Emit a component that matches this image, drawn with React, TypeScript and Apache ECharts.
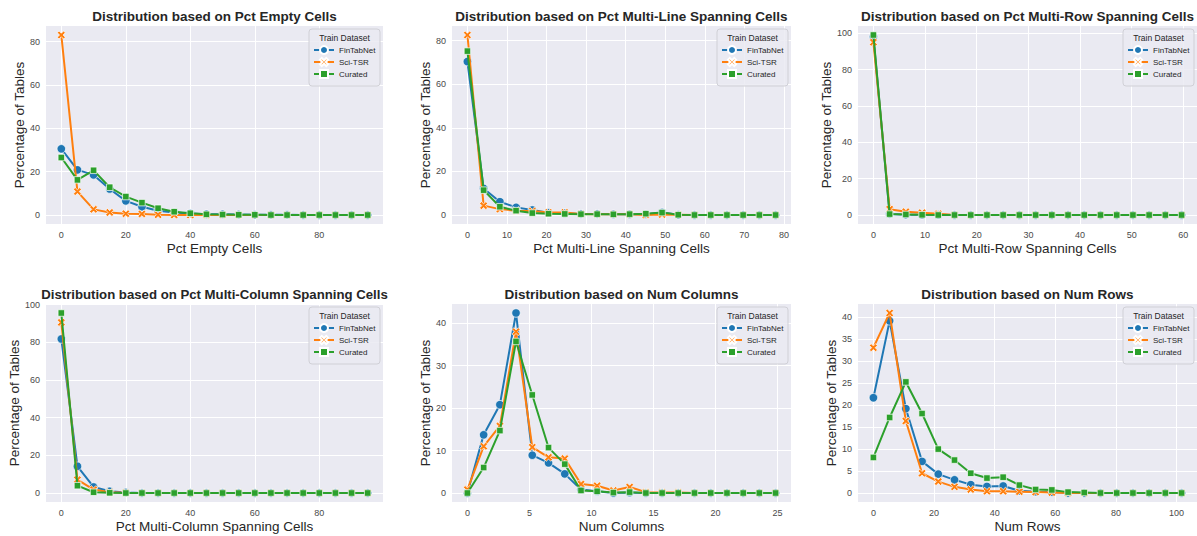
import React, { useEffect, useRef } from 'react';
import * as echarts from 'echarts';

// ---------- data ----------
const seriesNames = ['FinTabNet', 'Sci-TSR', 'Curated'];

const panelTitles = [
  'Distribution based on Pct Empty Cells',
  'Distribution based on Pct Multi-Line Spanning Cells',
  'Distribution based on Pct Multi-Row Spanning Cells',
  'Distribution based on Pct Multi-Column Spanning Cells',
  'Distribution based on Num Columns',
  'Distribution based on Num Rows',
];
const xAxisNames = [
  'Pct Empty Cells',
  'Pct Multi-Line Spanning Cells',
  'Pct Multi-Row Spanning Cells',
  'Pct Multi-Column Spanning Cells',
  'Num Columns',
  'Num Rows',
];
const yAxisName = 'Percentage of Tables';

// Pct Empty Cells
const xEmpty = [0, 5, 10, 15, 20, 25, 30, 35, 40, 45, 50, 55, 60, 65, 70, 75, 80, 85, 90, 95];
const emptyFin = [30.5, 20.8, 18.5, 12.0, 6.5, 3.8, 2.0, 1.2, 0.7, 0.4, 0.3, 0.2, 0.1, 0.1, 0.1, 0, 0, 0, 0, 0];
const emptySci = [83.0, 10.8, 2.6, 1.2, 0.6, 0.5, 0.1, 0, 0, 0, 0, 0, 0, 0, 0, 0, 0, 0, 0, 0];
const emptyCur = [26.5, 16.2, 20.6, 12.8, 8.5, 5.7, 3.1, 1.5, 0.8, 0.3, 0.2, 0.1, 0.1, 0, 0, 0, 0, 0, 0, 0];

// Pct Multi-Line Spanning Cells
const xMultiLine = [0, 4.1, 8.2, 12.3, 16.4, 20.5, 24.6, 28.7, 32.8, 36.9, 41.0, 45.1, 49.2, 53.3, 57.4, 61.5, 65.6, 69.7, 73.8, 77.9];
const lineFin = [70.4, 12.2, 6.1, 3.5, 2.3, 1.0, 0.8, 0.5, 0.5, 0.3, 0.3, 0.3, 1.2, 0.1, 0, 0, 0, 0, 0, 0];
const lineSci = [82.6, 4.3, 2.7, 2.0, 1.8, 1.2, 1.2, 0.5, 0.4, 0.3, 0.3, 0, 0.2, 0.1, 0, 0, 0, 0, 0, 0];
const lineCur = [75.2, 11.4, 3.8, 2.0, 0.9, 0.6, 0.5, 0.4, 0.4, 0.3, 0.4, 0.6, 1.1, 0.1, 0, 0, 0, 0, 0, 0];

// Pct Multi-Row Spanning Cells
const xMultiRow = [0, 3.14, 6.28, 9.42, 12.56, 15.7, 18.84, 21.98, 25.12, 28.26, 31.4, 34.54, 37.68, 40.82, 43.96, 47.1, 50.24, 53.38, 56.52, 59.66];
const rowFin = [98.0, 0.6, 0.2, 0.1, 0.1, 0, 0, 0, 0, 0, 0, 0, 0, 0, 0, 0, 0, 0, 0, 0];
const rowSci = [95.0, 3.2, 1.8, 1.3, 0.7, 0, 0, 0, 0, 0, 0, 0, 0, 0, 0, 0, 0, 0, 0, 0];
const rowCur = [99.0, 0.5, 0.3, 0.1, 0, 0, 0, 0, 0, 0, 0, 0, 0, 0, 0, 0, 0, 0, 0, 0];

// Pct Multi-Column Spanning Cells
const xMultiCol = [0, 5, 10, 15, 20, 25, 30, 35, 40, 45, 50, 55, 60, 65, 70, 75, 80, 85, 90, 95];
const colFin = [81.8, 14.2, 3.2, 0.9, 0.3, 0, 0, 0, 0, 0, 0, 0, 0, 0, 0, 0, 0, 0, 0, 0];
const colSci = [90.6, 7.1, 1.8, 0.4, 0.1, 0, 0, 0, 0, 0, 0, 0, 0, 0, 0, 0, 0, 0, 0, 0];
const colCur = [95.6, 3.9, 0.4, 0.1, 0, 0, 0, 0, 0, 0, 0, 0, 0, 0, 0, 0, 0, 0, 0, 0];

// Num Columns
const xNumCols = [0, 1.31, 2.62, 3.92, 5.23, 6.54, 7.85, 9.16, 10.46, 11.77, 13.08, 14.39, 15.7, 17.0, 18.31, 19.62, 20.93, 22.24, 23.54, 24.85];
const colsFin = [0, 13.7, 20.8, 42.4, 8.9, 7.1, 4.5, 0.8, 0.4, 0, 0.1, 0, 0, 0, 0, 0, 0, 0, 0, 0];
const colsSci = [0.8, 11.0, 15.8, 38.0, 10.8, 8.4, 8.1, 2.1, 1.7, 0.6, 1.4, 0.2, 0.1, 0.1, 0, 0, 0, 0, 0, 0];
const colsCur = [0, 6.0, 14.7, 35.7, 23.1, 10.7, 6.8, 0.6, 0.4, 0.1, 0.2, 0, 0, 0, 0, 0, 0, 0, 0, 0];

// Num Rows
const xNumRows = [0, 5.35, 10.7, 16.05, 21.4, 26.75, 32.1, 37.45, 42.8, 48.15, 53.5, 58.85, 64.2, 69.55, 74.9, 80.25, 85.6, 90.95, 96.3, 101.65];
const rowsFin = [21.7, 39.2, 19.2, 7.2, 4.3, 3.0, 1.9, 1.5, 1.6, 0.5, 0.3, 0.2, 0, 0, 0, 0, 0, 0, 0, 0];
const rowsSci = [33.1, 41.0, 16.4, 4.5, 2.6, 1.4, 0.8, 0.4, 0.4, 0.3, 0.2, 0.1, 0, 0, 0, 0, 0, 0, 0, 0];
const rowsCur = [8.1, 17.2, 25.3, 18.1, 10.0, 7.5, 4.5, 3.4, 3.6, 1.8, 0.8, 0.7, 0.2, 0.1, 0, 0, 0, 0, 0, 0];

// tick labels
const xTicks = [
  [0, 20, 40, 60, 80],
  [0, 10, 20, 30, 40, 50, 60, 70, 80],
  [0, 10, 20, 30, 40, 50, 60],
  [0, 20, 40, 60, 80],
  [0, 5, 10, 15, 20, 25],
  [0, 20, 40, 60, 80, 100],
];
const yTicks = [
  [0, 20, 40, 60, 80],
  [0, 20, 40, 60, 80],
  [0, 20, 40, 60, 80, 100],
  [0, 20, 40, 60, 80, 100],
  [0, 10, 20, 30, 40],
  [0, 5, 10, 15, 20, 25, 30, 35, 40],
];

const panelX = [xEmpty, xMultiLine, xMultiRow, xMultiCol, xNumCols, xNumRows];
const panelY = [
  [emptyFin, emptySci, emptyCur],
  [lineFin, lineSci, lineCur],
  [rowFin, rowSci, rowCur],
  [colFin, colSci, colCur],
  [colsFin, colsSci, colsCur],
  [rowsFin, rowsSci, rowsCur],
];

// ---------- styling / layout ----------
const W = 1197;
const H = 536;
const FONT = '"Liberation Sans", Arial, Helvetica, sans-serif';
const TEXT = '#262626';
const TICK = '#4a4a4a';
const BG = '#eaeaf2';
const colors = ['#1f77b4', '#ff7f0e', '#2ca02c'];
const xSymbol = 'path://M0,2.2L2.2,0L5,2.8L7.8,0L10,2.2L7.2,5L10,7.8L7.8,10L5,7.2L2.2,10L0,7.8L2.8,5Z';
const symbols = ['circle', xSymbol, 'rect'];
const symbolSizes = [8.5, 8, 6.5];

const gridLefts = [46, 452, 858];
const gridWidths = [337, 339, 339];
const gridTops = [26, 304];
const gridHeight = 198;
const legendW = 71;
const legendH = 57;
const titleSizes = [13.5, 13.5, 13.5, 13.2, 13.5, 13.5];

const padMin = (v: { min: number; max: number }) => v.min - (v.max - v.min) * 0.05;
const padMax = (v: { min: number; max: number }) => v.max + (v.max - v.min) * 0.05;

function buildOption() {
  const grid: any[] = [];
  const xAxis: any[] = [];
  const yAxis: any[] = [];
  const series: any[] = [];
  const legend: any[] = [];
  const graphic: any[] = [];

  for (let p = 0; p < 6; p++) {
    const col = p % 3;
    const row = Math.floor(p / 3);
    const left = gridLefts[col];
    const width = gridWidths[col];
    const top = gridTops[row];

    grid.push({
      left,
      top,
      width,
      height: gridHeight,
      show: true,
      backgroundColor: BG,
      borderWidth: 0,
    });

    xAxis.push({
      type: 'value',
      gridIndex: p,
      min: padMin,
      max: padMax,
      axisLine: { show: false },
      axisTick: { show: false, customValues: xTicks[p] },
      axisLabel: { customValues: xTicks[p], fontSize: 9, color: TICK, margin: 6, fontFamily: FONT },
      splitLine: { show: true, lineStyle: { color: '#ffffff', width: 1 } },
      name: xAxisNames[p],
      nameLocation: 'middle',
      nameGap: 17,
      nameTextStyle: { fontSize: 13.5, color: TEXT, fontFamily: FONT },
    });

    yAxis.push({
      type: 'value',
      gridIndex: p,
      min: padMin,
      max: padMax,
      axisLine: { show: false },
      axisTick: { show: false, customValues: yTicks[p] },
      axisLabel: { customValues: yTicks[p], fontSize: 9, color: TICK, margin: 6, fontFamily: FONT },
      splitLine: { show: true, lineStyle: { color: '#ffffff', width: 1 } },
      name: yAxisName,
      nameLocation: 'middle',
      nameGap: 20,
      nameTextStyle: { fontSize: 13.5, color: TEXT, fontFamily: FONT },
    });

    for (let k = 0; k < 3; k++) {
      const xs = panelX[p];
      const ys = panelY[p][k];
      series.push({
        type: 'line',
        name: seriesNames[k],
        xAxisIndex: p,
        yAxisIndex: p,
        data: xs.map((x, i) => [x, ys[i]]),
        symbol: symbols[k],
        symbolSize: symbolSizes[k],
        showSymbol: true,
        color: colors[k],
        lineStyle: { width: 2, color: colors[k] },
        itemStyle: { color: colors[k], borderColor: '#ffffff', borderWidth: 0.7 },
        emphasis: { disabled: true },
        z: 2 + k,
      });
    }

    const boxRight = left + width - 3;
    const boxLeft = boxRight - legendW;
    const boxTop = top + 3;

    graphic.push({
      type: 'rect',
      shape: { x: boxLeft, y: boxTop, width: legendW, height: legendH, r: 3 },
      style: { fill: 'rgba(234,234,242,0.85)', stroke: '#d0d0d6', lineWidth: 1 },
      z: 10,
    });
    graphic.push({
      type: 'text',
      style: {
        text: 'Train Dataset',
        x: boxLeft + legendW / 2,
        y: boxTop + 9,
        align: 'center',
        verticalAlign: 'middle',
        fontSize: 8.5,
        fill: TEXT,
        fontFamily: FONT,
      },
      z: 11,
    });
    graphic.push({
      type: 'text',
      style: {
        text: panelTitles[p],
        x: left + width / 2,
        y: top - (row === 0 ? 10 : 9.5),
        align: 'center',
        verticalAlign: 'middle',
        fontSize: titleSizes[p],
        fontWeight: 'bold',
        fill: TEXT,
        fontFamily: FONT,
      },
      z: 11,
    });

    legend.push({
      data: seriesNames,
      left: boxLeft + 4,
      top: boxTop + 16,
      orient: 'vertical',
      itemWidth: 20,
      itemHeight: 10,
      itemGap: 2,
      itemTextGap: 4,
      padding: 0,
      selectedMode: false,
      textStyle: { fontSize: 8, color: TEXT, fontFamily: FONT, lineHeight: 10 },
      z: 12,
    });
  }

  return {
    animation: false,
    backgroundColor: '#ffffff',
    textStyle: { fontFamily: FONT },
    grid,
    xAxis,
    yAxis,
    series,
    legend,
    graphic,
  };
}

export default function App() {
  const ref = useRef<HTMLDivElement>(null);
  useEffect(() => {
    if (!ref.current) return;
    const chart = echarts.init(ref.current, undefined, { renderer: 'svg' });
    chart.setOption(buildOption() as any);
    return () => chart.dispose();
  }, []);
  return (
    <div
      ref={ref}
      style={{ position: 'absolute', left: 0, top: 0, width: W, height: H }}
    />
  );
}
